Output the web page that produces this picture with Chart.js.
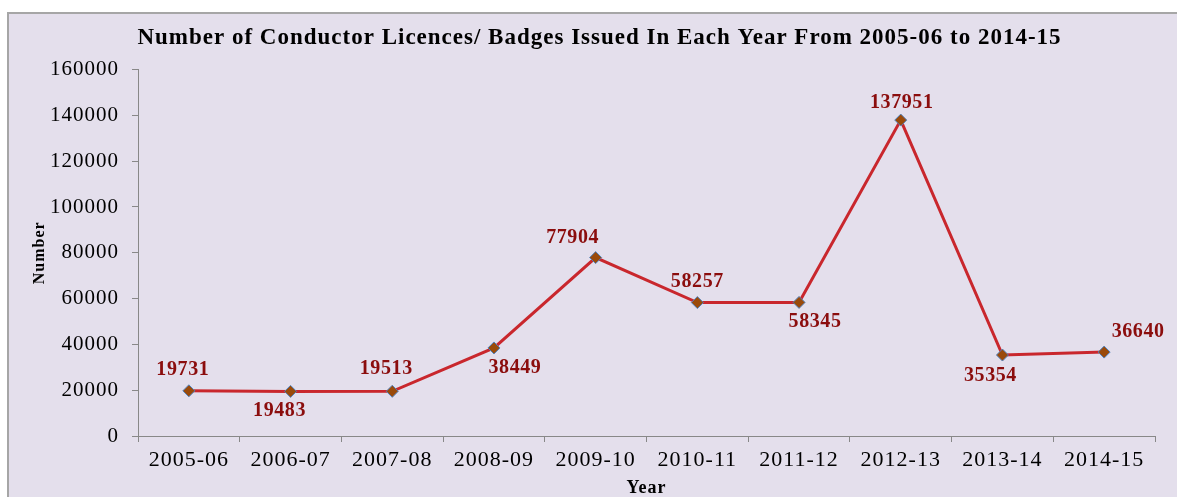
<!DOCTYPE html>
<html lang="en">
<head>
    <meta charset="UTF-8">
    <title>Conductor Licences / Badges</title>
    <script src="https://cdn.jsdelivr.net/npm/chart.js"></script>
    <style>
        html, body { margin: 0; padding: 0; background: #fff; overflow: hidden; }
        .chart-box { position: absolute; left: 7px; top: 12px; width: 1200px; height: 520px; background: #e4dfec; border: 2px solid #a6a6a6; box-sizing: border-box; }
        #conductorChart { position: absolute; left: 0; top: 0; }
    </style>
</head>
<body>
    <div class="chart-box"></div>
    <canvas id="conductorChart" width="1177" height="497"></canvas>

    <script>
    // Data
    const years = ['2005-06', '2006-07', '2007-08', '2008-09', '2009-10', '2010-11', '2011-12', '2012-13', '2013-14', '2014-15'];
    const issued = [19731, 19483, 19513, 38449, 77904, 58257, 58345, 137951, 35354, 36640];

    // where each value label sits relative to its point (px)
    const labelShift = [[-6, -21], [-11, 19], [-6, -22], [21, 20], [-23, -20], [0, -21], [16, 19], [1, -17], [-12, 21], [34, -20]];

    const serif = '"Liberation Serif", "Times New Roman", serif';

    // the original picture is a bit stretched sideways, widen the text a little
    const wideText = {
      id: 'wideText',
      beforeUpdate(chart) { chart.ctx.letterSpacing = '1px'; },
      beforeDraw(chart) { chart.ctx.letterSpacing = '1px'; }
    };

    // simple value labels, no datalabels plugin available
    const valueLabels = {
      id: 'valueLabels',
      afterDatasetsDraw(chart) {
        const ctx = chart.ctx;
        const meta = chart.getDatasetMeta(0);
        ctx.save();
        ctx.letterSpacing = '0.6px';
        ctx.font = 'bold 20px ' + serif;
        ctx.fillStyle = '#8b0d0d';
        ctx.textAlign = 'center';
        ctx.textBaseline = 'middle';
        meta.data.forEach((pt, i) => {
          const s = labelShift[i];
          ctx.fillText(String(issued[i]), pt.x + s[0], pt.y + s[1]);
        });
        ctx.restore();
      }
    };

    new Chart(document.getElementById('conductorChart'), {
      type: 'line',
      data: {
        labels: years,
        datasets: [{
          label: 'Number',
          data: issued,
          borderColor: '#c9272d',
          borderWidth: 3,
          tension: 0,
          pointStyle: 'rectRot',
          pointRadius: 6,
          pointBackgroundColor: '#9a4a0a',
          pointBorderColor: '#4f81bd',
          pointBorderWidth: 1
        }]
      },
      options: {
        responsive: false,
        animation: false,
        layout: { padding: { left: 44, right: 22, top: 0, bottom: 0 } },
        plugins: {
          legend: { display: false },
          tooltip: { enabled: false },
          title: {
            display: true,
            text: 'Number of Conductor Licences/ Badges Issued In Each Year From 2005-06 to 2014-15',
            color: '#000',
            font: { family: serif, size: 23, weight: 'bold' },
            padding: { top: 24, bottom: 18 }
          }
        },
        scales: {
          x: {
            offset: true,
            afterFit(s) { s.height = 61; },
            grid: { drawOnChartArea: false, drawTicks: true, tickLength: 6, color: '#888', offset: true },
            border: { color: '#888', width: 1 },
            ticks: { color: '#000', font: { family: serif, size: 22 }, padding: 5, maxRotation: 0 },
            title: { display: true, text: 'Year', color: '#000', font: { family: serif, size: 18, weight: 'bold' }, padding: { top: 0, bottom: -2 } }
          },
          y: {
            min: 0,
            max: 160000,
            afterFit(s) { s.width = 94; },
            grid: { drawOnChartArea: false, drawTicks: true, tickLength: 6, color: '#888' },
            border: { color: '#888', width: 1 },
            ticks: { stepSize: 20000, color: '#000', font: { family: serif, size: 21 }, padding: 13, callback: v => String(v) },
            title: { display: true, text: 'Number', color: '#000', font: { family: serif, size: 16, weight: 'bold' }, padding: { top: -14, bottom: 0 } }
          }
        }
      },
      plugins: [wideText, valueLabels]
    });
    </script>
</body>
</html>
